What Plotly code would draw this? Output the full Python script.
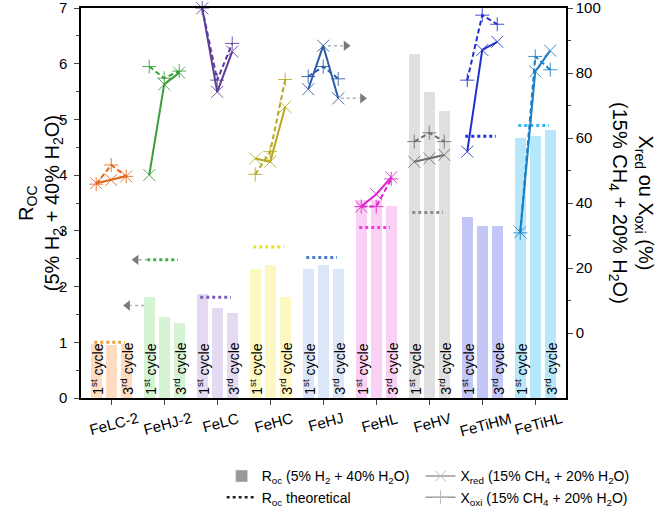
import plotly.graph_objects as go

categories = ["FeLC-2", "FeHJ-2", "FeLC", "FeHC", "FeHJ", "FeHL", "FeHV", "FeTiHM", "FeTiHL"]

# R_oc per cycle (left axis)
roc_cycle1 = [0.97, 1.82, 1.87, 2.31, 2.32, 3.55, 6.17, 3.24, 4.67]
roc_cycle2 = [0.96, 1.46, 1.61, 2.38, 2.38, 3.55, 5.50, 3.09, 4.70]
roc_cycle3 = [0.97, 1.34, 1.52, 1.82, 2.32, 3.45, 5.16, 3.09, 4.81]
roc_theoretical = [1.00, 2.48, 1.81, 2.71, 2.52, 3.06, 3.33, 4.70, 4.89]

# X_red / X_oxi (%) per cycle (right axis)
x_red = [
    [46.1, 47.1, 48.2],
    [48.6, 76.5, 80.1],
    [99.9, 74.2, 86.6],
    [53.7, 52.7, 69.6],
    [75.0, 88.4, 72.2],
    [38.9, 42.7, 47.9],
    [52.7, 53.7, 54.8],
    [55.8, 87.1, 89.6],
    [31.0, 80.5, 86.9],
]
x_oxi = [
    [45.8, 51.7, 48.2],
    [82.0, 78.4, 80.6],
    [100.0, 77.8, 89.1],
    [48.8, 55.8, 78.0],
    [78.9, 82.0, 78.2],
    [38.9, 38.9, 47.4],
    [58.9, 61.6, 58.9],
    [77.8, 97.8, 95.0],
    [30.8, 85.1, 81.0],
]

bar_colors = ["#FDDCC2", "#D4F4D4", "#E4DBF2", "#FDF7C2", "#DBE6F9",
              "#FAD0F5", "#E0E0E0", "#C2C7F8", "#B6E7FA"]
line_colors = ["#E0661A", "#3A9E3A", "#5B3E98", "#B5AA1E", "#2B5BA8",
               "#E021CC", "#6E6E6E", "#1F2FD0", "#1A7FC6"]
theo_colors = ["#F0A040", "#3CB043", "#7A5CB8", "#E6E61A", "#4A7FD0",
               "#F03CE0", "#8C8C8C", "#2030E8", "#2EB4F0"]

off = 0.283
bw = 0.21
FONT = "Liberation Sans, Arial, sans-serif"

fig = go.Figure()

# bars
for g, name in enumerate(categories):
    fig.add_trace(go.Bar(
        x=[g - off, g, g + off],
        y=[roc_cycle1[g], roc_cycle2[g], roc_cycle3[g]],
        width=bw, marker=dict(color=bar_colors[g], line=dict(width=0)),
        showlegend=False, hoverinfo="skip"))

# theoretical dotted lines
for g in range(len(categories)):
    fig.add_trace(go.Scatter(
        x=[g - 0.32, g + 0.26], y=[roc_theoretical[g]] * 2, mode="lines",
        line=dict(color=theo_colors[g], width=3, dash="dot"),
        showlegend=False, hoverinfo="skip"))

# X lines
for g in range(len(categories)):
    xs = [g - off, g, g + off]
    fig.add_trace(go.Scatter(
        x=xs, y=x_oxi[g], yaxis="y2", mode="lines+markers",
        line=dict(color=line_colors[g], width=2, dash="5px,3px"),
        marker=dict(symbol="cross-thin", size=10, opacity=0.85,
                    line=dict(color=line_colors[g], width=1)),
        cliponaxis=False, showlegend=False, hoverinfo="skip"))
    fig.add_trace(go.Scatter(
        x=xs, y=x_red[g], yaxis="y2", mode="lines+markers",
        line=dict(color=line_colors[g], width=2),
        marker=dict(symbol="x-thin", size=12, opacity=0.85,
                    line=dict(color=line_colors[g], width=1)),
        cliponaxis=False, showlegend=False, hoverinfo="skip"))

# axis-pointing arrows (gray dotted with triangle heads)
arrow_gray = "#7A7A7A"
# left-pointing (FeHJ-2, left axis)
for (xa, xb, yv) in [(0.69, 0.52, 2.48), (0.62, 0.36, 1.66)]:
    fig.add_trace(go.Scatter(x=[xa, xb], y=[yv, yv], mode="lines",
                             line=dict(color="#B0B0B0", width=1.5, dash="dot"),
                             showlegend=False, hoverinfo="skip"))
    fig.add_trace(go.Scatter(x=[xb - 0.05], y=[yv], mode="markers",
                             marker=dict(symbol="triangle-left", size=9, color=arrow_gray),
                             showlegend=False, hoverinfo="skip"))
# right-pointing (FeHJ, right axis)
for (xa, xb, yv) in [(4.09, 4.37, 88.4), (4.33, 4.68, 72.2)]:
    fig.add_trace(go.Scatter(x=[xa, xb], y=[yv, yv], yaxis="y2", mode="lines",
                             line=dict(color="#B0B0B0", width=1.5, dash="dot"),
                             showlegend=False, hoverinfo="skip"))
    fig.add_trace(go.Scatter(x=[xb + 0.06], y=[yv], yaxis="y2", mode="markers",
                             marker=dict(symbol="triangle-right", size=9, color=arrow_gray),
                             showlegend=False, hoverinfo="skip"))

# legend entries
fig.add_trace(go.Bar(x=[None], y=[None], marker_color="#999999",
                     name="R<sub>oc</sub> (5% H<sub>2</sub> + 40% H<sub>2</sub>O)",
                     legend="legend"))
fig.add_trace(go.Scatter(x=[None], y=[None], mode="lines",
                         line=dict(color="#222222", width=2.5, dash="dot"),
                         name="R<sub>oc</sub> theoretical", legend="legend"))
fig.add_trace(go.Scatter(x=[None], y=[None], mode="lines+markers",
                         line=dict(color="#9A9A9A", width=1.5),
                         marker=dict(symbol="x-thin", size=11, line=dict(color="#BBBBBB", width=1)),
                         name="X<sub>red</sub> (15% CH<sub>4</sub> + 20% H<sub>2</sub>O)",
                         legend="legend2"))
fig.add_trace(go.Scatter(x=[None], y=[None], mode="lines+markers",
                         line=dict(color="#9A9A9A", width=1.5),
                         marker=dict(symbol="cross-thin", size=10, line=dict(color="#BBBBBB", width=1)),
                         name="X<sub>oxi</sub> (15% CH<sub>4</sub> + 20% H<sub>2</sub>O)",
                         legend="legend2"))

annotations = []
# cycle labels
for g in range(len(categories)):
    for dx, lab in [(-off, "1<sup>st</sup> cycle"), (off, "3<sup>rd</sup> cycle")]:
        annotations.append(dict(x=g + dx, y=0, xref="x", yref="y", text=lab,
                                textangle=-90, showarrow=False, xanchor="center",
                                yanchor="bottom", yshift=1,
                                font=dict(size=14, color="black", family=FONT)))
# category labels
for g, name in enumerate(categories):
    annotations.append(dict(x=g, y=-0.022, xref="x", yref="paper", text=name,
                            textangle=-15, showarrow=False, xanchor="center",
                            yanchor="top", xshift=3,
                            font=dict(size=15, color="black", family=FONT)))
# axis titles
annotations.append(dict(x=-0.084, y=0.5, xref="paper", yref="paper",
                        text="R<sub>OC</sub><br>(5% H<sub>2</sub> + 40% H<sub>2</sub>O)",
                        textangle=-90, showarrow=False, xanchor="center", yanchor="middle",
                        font=dict(size=20, color="black", family=FONT)))
annotations.append(dict(x=1.136, y=0.5, xref="paper", yref="paper",
                        text="X<sub>red</sub> ou X<sub>oxi</sub> (%)<br>(15% CH<sub>4</sub> + 20% H<sub>2</sub>O)",
                        textangle=90, showarrow=False, xanchor="center", yanchor="middle",
                        font=dict(size=20, color="black", family=FONT)))

fig.update_layout(
    width=661, height=512, autosize=False,
    margin=dict(l=81, r=95, t=8, b=114, autoexpand=False),
    plot_bgcolor="white", paper_bgcolor="white",
    barmode="overlay", bargap=0,
    font=dict(family=FONT, color="black", size=15),
    xaxis=dict(range=[-0.57, 8.58], tickvals=list(range(len(categories))),
               showticklabels=False, ticks="outside", ticklen=5, tickwidth=1.3,
               showline=True, linewidth=1.5, linecolor="black", mirror=True,
               showgrid=False, zeroline=False),
    yaxis=dict(range=[0, 7], tickvals=list(range(8)), ticks="outside", ticklen=5,
               tickwidth=1.3, ticklabelstandoff=4, ticklabeloverflow="allow",
               minor=dict(tickvals=[0.5 + i for i in range(7)], ticks="outside",
                          ticklen=3, tickwidth=1),
               showline=True, linewidth=1.5, linecolor="black",
               showgrid=False, zeroline=False, tickfont=dict(size=15)),
    yaxis2=dict(range=[-20, 100], overlaying="y", side="right",
                tickvals=[0, 20, 40, 60, 80, 100], ticks="outside", ticklen=5,
                tickwidth=1.3, ticklabeloverflow="allow",
                minor=dict(tickvals=[10, 30, 50, 70, 90], ticks="outside",
                           ticklen=3, tickwidth=1),
                showline=True, linewidth=1.5, linecolor="black",
                showgrid=False, zeroline=False, tickfont=dict(size=15)),
    legend=dict(x=0.29, y=-0.16, xanchor="left", yanchor="top",
                font=dict(size=14, family=FONT), bgcolor="rgba(0,0,0,0)",
                tracegroupgap=0, itemwidth=30),
    legend2=dict(x=0.70, y=-0.16, xanchor="left", yanchor="top",
                 font=dict(size=14, family=FONT), bgcolor="rgba(0,0,0,0)",
                 tracegroupgap=0, itemwidth=30),
    annotations=annotations,
)

fig.write_html("out.html")
